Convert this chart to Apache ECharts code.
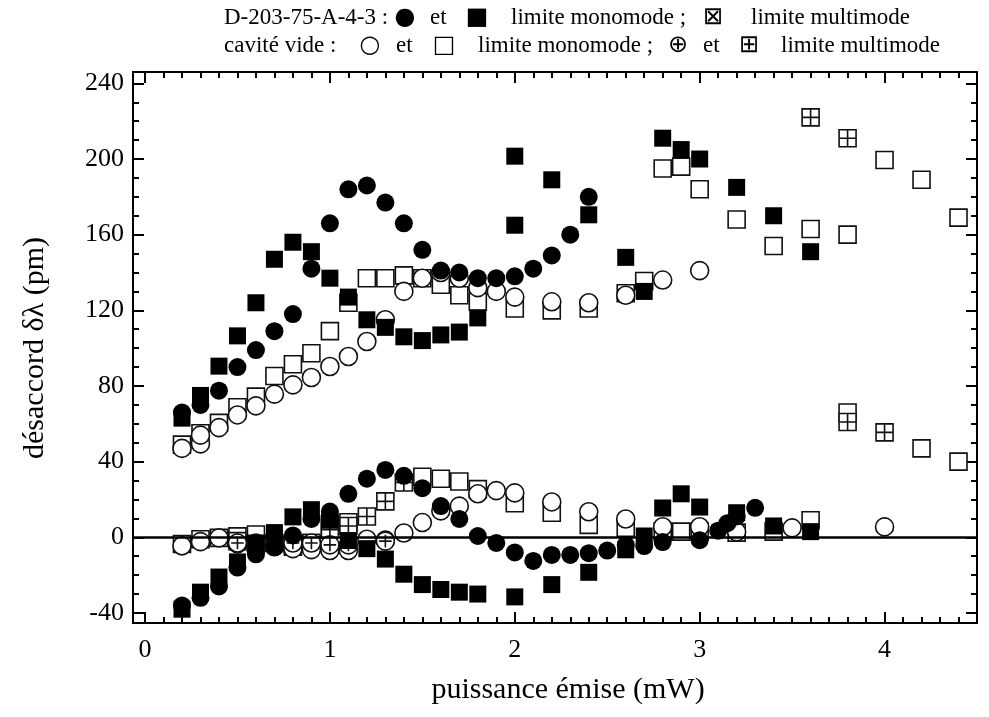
<!DOCTYPE html>
<html>
<head>
<meta charset="utf-8">
<script src="https://cdn.jsdelivr.net/npm/echarts@6/dist/echarts.min.js"></script>
<style>
html,body{margin:0;padding:0;background:#fff;}
#chart{width:989px;height:717px;}
</style>
</head>
<body>
<div id="chart"></div>
<script>
// ---- Data (x = puissance émise mW, y = désaccord pm) ----
// D-203-75-A-4-3, limite monomode: filled circles
var fcUp = [[0.2,66],[0.3,70],[0.4,77.5],[0.5,90],[0.6,99],[0.7,109],[0.8,118],[0.9,142],[1.0,166],[1.1,184],[1.2,186],[1.3,177],[1.4,166],[1.5,152],[1.6,141],[1.7,140],[1.8,137],[1.9,137],[2.0,138],[2.1,142],[2.2,149],[2.3,160],[2.4,180]];
var fcLow = [[0.2,-36],[0.3,-32],[0.4,-26],[0.5,-16],[0.6,-9],[0.7,-5],[0.8,1],[0.9,9.7],[1.0,13.6],[1.1,23],[1.2,31],[1.3,35.6],[1.4,32.5],[1.5,26],[1.6,16.5],[1.7,9.7],[1.8,0.7],[1.9,-3],[2.0,-8],[2.1,-12.5],[2.2,-9.3],[2.3,-9.3],[2.4,-8.4],[2.5,-7],[2.6,-4],[2.7,-4.6],[2.8,-2.5],[3.0,-1.5],[3.1,3.5],[3.15,7.5],[3.2,11],[3.3,15.6]];
// D-203-75-A-4-3, limite monomode: filled squares
var fsUp = [[0.2,63],[0.3,75],[0.4,90.5],[0.5,106.5],[0.6,124],[0.7,147],[0.8,156],[0.9,151],[1.0,137],[1.1,127],[1.2,115],[1.3,111],[1.4,106],[1.5,104],[1.6,107],[1.7,108.5],[1.8,116],[2.0,201.5],[2.0,165],[2.2,189],[2.4,170.5],[2.6,148],[2.7,130],[2.8,211],[2.9,205],[3.0,200],[3.2,185],[3.4,170],[3.6,151]];
var fsLow = [[0.2,-38],[0.3,-29],[0.4,-21],[0.5,-13],[0.6,-3],[0.7,2.5],[0.8,10.8],[0.9,14.6],[1.0,9],[1.1,-1.7],[1.2,-6],[1.3,-11.5],[1.4,-19.5],[1.5,-25],[1.6,-27.6],[1.7,-29],[1.8,-30],[2.0,-31.5],[2.2,-25],[2.4,-18.5],[2.6,-6.6],[2.7,0.7],[2.8,15.5],[2.9,23],[3.0,16],[3.2,13],[3.4,6],[3.6,3]];
// cavité vide, limite monomode: open circles
var ocUp = [[0.2,47],[0.3,49.4],[0.3,54],[0.4,58],[0.5,64.7],[0.6,69.5],[0.7,75.7],[0.8,80.6],[0.9,84.5],[1.0,90.3],[1.1,95.6],[1.2,103.5],[1.3,115],[1.4,130],[1.5,137],[1.6,140],[1.7,137],[1.8,132],[1.9,130],[2.0,127],[2.2,124.5],[2.4,124],[2.6,128],[2.8,136],[3.0,141]];
var ocLow = [[0.2,-4.5],[0.3,-2.3],[0.4,-0.3],[0.5,-3.5],[0.6,-6],[0.7,-5],[0.8,-6],[0.9,-6.5],[1.0,-7],[1.1,-7],[1.2,-1],[1.3,-1.5],[1.4,2.3],[1.5,7.8],[1.6,14],[1.7,16.5],[1.8,23],[1.9,24.7],[2.0,23.5],[2.2,18.7],[2.4,13.5],[2.6,9.7],[2.8,5.6],[3.0,5.6],[3.2,2.9],[3.5,5],[4.0,5.5]];
// cavité vide, limite monomode: open squares
var osUp = [[0.2,49],[0.3,55],[0.4,60.5],[0.5,68.8],[0.6,74.4],[0.7,85.3],[0.8,91.5],[0.9,97.3],[1.0,109],[1.1,124],[1.2,137],[1.3,137],[1.4,138.5],[1.5,137],[1.6,133.5],[1.7,128],[1.8,124.5],[2.0,121],[2.2,120],[2.4,121],[2.6,129],[2.7,135.5],[2.8,195],[2.9,196],[3.0,184],[3.2,168],[3.4,154],[3.6,163],[3.8,160],[4.0,199.5],[4.2,189],[4.4,169],[3.8,66],[4.2,47],[4.4,40]];
var osLow = [[0.2,-3.5],[0.3,-1],[0.4,-0.3],[0.5,0.5],[0.6,1.5],[0.7,-3],[0.8,-4],[0.9,-3],[1.0,7],[1.1,8],[1.5,32],[1.6,31],[1.7,29.5],[1.8,25.5],[2.0,18],[2.2,13],[2.4,6.6],[2.6,5],[2.8,3],[2.9,3],[3.0,3],[3.2,2.5],[3.4,3],[3.6,9]];
// cavité vide, limite multimode: circle-plus and square-plus
var pcLow = [[0.5,-3],[0.6,-3],[0.8,-3],[0.9,-3],[1.0,-4],[1.1,-4],[1.3,-2]];
var psAll = [[3.6,222],[3.8,211],[3.8,61],[4.0,55.5],[0.5,-2],[0.8,-5],[0.9,-3],[1.0,4],[1.1,6],[1.2,11],[1.3,19],[1.4,29]];

// tick values
var xMajor = [0,1,2,3,4];
var xMinor = [0,0.1,0.2,0.3,0.4,0.5,0.6,0.7,0.8,0.9,1,1.1,1.2,1.3,1.4,1.5,1.6,1.7,1.8,1.9,2,2.1,2.2,2.3,2.4,2.5,2.6,2.7,2.8,2.9,3,3.1,3.2,3.3,3.4,3.5,3.6,3.7,3.8,3.9,4,4.1,4.2,4.3,4.4,4.5];
var yMajor = [-40,0,40,80,120,160,200,240];
var yMinor = [-40,-30,-20,-10,0,10,20,30,40,50,60,70,80,90,100,110,120,130,140,150,160,170,180,190,200,210,220,230,240];

var X_MIN = -0.065, X_MAX = 4.5, Y_MIN = -45.3, Y_MAX = 246;
var FONT = '"Liberation Serif", "Times New Roman", serif';

function xAx(pos, ticks, len, labels) {
  return {
    type: 'value', min: X_MIN, max: X_MAX, position: pos, gridIndex: 0,
    axisLine: {show: true, onZero: false, lineStyle: {color: '#000', width: 2}},
    axisTick: {show: true, inside: true, length: len, customValues: ticks, lineStyle: {color: '#000', width: 2}},
    axisLabel: labels ? {show: true, customValues: xMajor, color: '#000', fontFamily: FONT, fontSize: 26, margin: 14} : {show: false},
    splitLine: {show: false}
  };
}
function yAx(pos, ticks, len, labels) {
  return {
    type: 'value', min: Y_MIN, max: Y_MAX, position: pos, gridIndex: 0,
    axisLine: {show: true, onZero: false, lineStyle: {color: '#000', width: 2}},
    axisTick: {show: true, inside: true, length: len, customValues: ticks, lineStyle: {color: '#000', width: 2}},
    axisLabel: labels ? {show: true, customValues: yMajor, color: '#000', fontFamily: FONT, fontSize: 26, margin: 9} : {show: false},
    splitLine: {show: false}
  };
}

var circlePlus = 'path://M10,0A10,10,0,1,1,10,20A10,10,0,1,1,10,0Z M10,3V17 M3,10H17';
var squarePlus = 'path://M0,0H20V20H0Z M10,0V20 M0,10H20';

function sc(data, symbol, filled, size) {
  return {
    type: 'scatter', xAxisIndex: 0, yAxisIndex: 0, data: data, symbol: symbol, symbolSize: size,
    silent: true, animation: false,
    itemStyle: filled ? {color: '#000', borderColor: '#000', borderWidth: 0, opacity: 1}
                      : {color: '#fff', borderColor: '#111', borderWidth: 1.6, opacity: 1}
  };
}

var series = [
  {
    type: 'line', xAxisIndex: 0, yAxisIndex: 0, data: [], silent: true, animation: false,
    markLine: {silent: true, symbol: 'none', animation: false, label: {show: false},
      lineStyle: {color: '#000', width: 2.5, type: 'solid'}, data: [{yAxis: 0}]}
  },
  sc(osUp, 'rect', false, 17),
  sc(osLow, 'rect', false, 17),
  sc(psAll, squarePlus, false, 17),
  sc(ocUp, 'circle', false, 18),
  sc(ocLow, 'circle', false, 18),
  sc(pcLow, circlePlus, false, 18),
  sc(fcUp, 'circle', true, 18),
  sc(fcLow, 'circle', true, 18),
  sc(fsUp, 'rect', true, 17),
  sc(fsLow, 'rect', true, 17)
];

function t(x, y, s) {
  return {type: 'text', x: x, y: y, silent: true,
    style: {text: s, fill: '#000', font: '23px ' + FONT, textAlign: 'left', textVerticalAlign: 'middle'}};
}
function sym(x, y, s) {
  return {type: 'text', x: x, y: y, silent: true,
    style: {text: s, fill: '#000', font: '24px "DejaVu Sans"', textAlign: 'center', textVerticalAlign: 'middle'}};
}

var graphics = [
  t(224, 18, 'D-203-75-A-4-3 :'),
  sym(405, 18, '\u25CF'), t(430, 18, 'et'), sym(477, 18, '\u25A0'),
  t(511, 18, 'limite monomode ;'), sym(713, 18, '\u22A0'), t(751, 18, 'limite multimode'),
  t(224, 46, 'cavit\u00e9 vide :'),
  sym(370, 46, '\u25CB'), t(396, 46, 'et'), sym(444, 46, '\u25A1'),
  t(478, 46, 'limite monomode ;'), sym(678, 46, '\u2295'), t(703, 46, 'et'), sym(749, 46, '\u229E'),
  t(781, 46, 'limite multimode'),
  {type: 'text', x: 568, y: 690, silent: true,
    style: {text: 'puissance \u00e9mise (mW)', fill: '#000', font: '30px ' + FONT, textAlign: 'center', textVerticalAlign: 'middle'}},
  {type: 'text', x: 35, y: 348, rotation: Math.PI / 2, silent: true,
    style: {text: 'd\u00e9saccord \u03b4\u03bb (pm)', fill: '#000', font: '30px ' + FONT, textAlign: 'center', textVerticalAlign: 'middle'}}
];

var chart = echarts.init(document.getElementById('chart'), null, {renderer: 'canvas'});
chart.setOption({
  backgroundColor: '#fff',
  animation: false,
  grid: {left: 133, right: 12, top: 72, bottom: 94, containLabel: false},
  xAxis: [xAx('bottom', xMajor, 11, true), xAx('bottom', xMinor, 6, false), xAx('top', xMajor, 11, false), xAx('top', xMinor, 6, false)],
  yAxis: [yAx('left', yMajor, 11, true), yAx('left', yMinor, 6, false), yAx('right', yMajor, 11, false), yAx('right', yMinor, 6, false)],
  series: series,
  graphic: graphics
});
</script>
</body>
</html>
